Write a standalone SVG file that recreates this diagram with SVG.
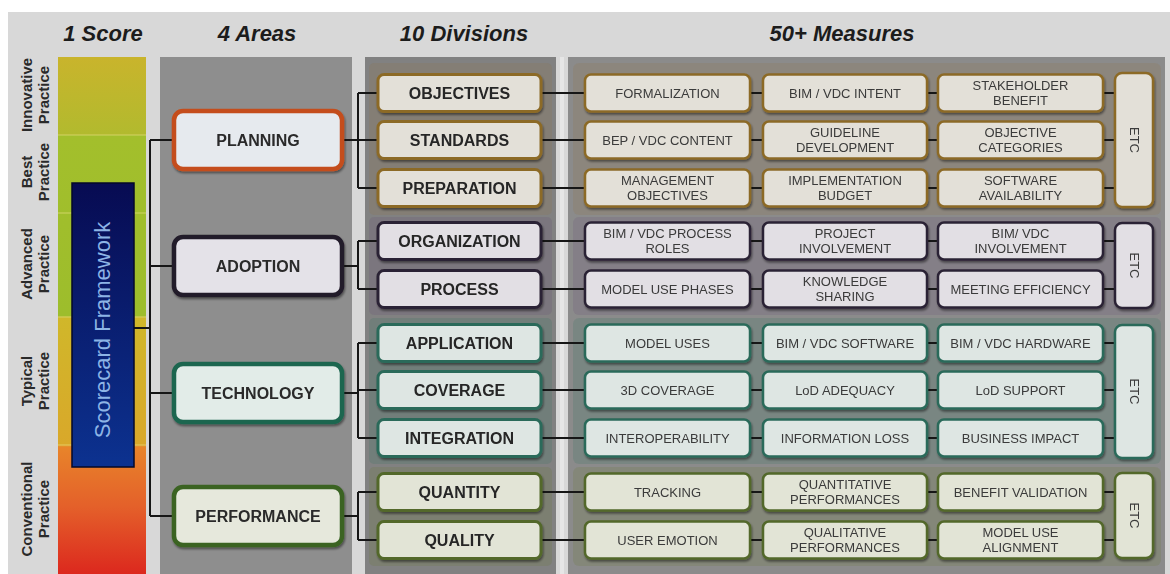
<svg xmlns="http://www.w3.org/2000/svg" width="1170" height="574" viewBox="0 0 1170 574">
<defs>
<linearGradient id="score" gradientUnits="userSpaceOnUse" x1="0" y1="57" x2="0" y2="574">
<stop offset="0" stop-color="#c9b42c"/>
<stop offset="0.15" stop-color="#b2ba2e"/>
<stop offset="0.152" stop-color="#a3bf2c"/>
<stop offset="0.5" stop-color="#9dbd2c"/>
<stop offset="0.505" stop-color="#d0b72a"/>
<stop offset="0.75" stop-color="#d9a82a"/>
<stop offset="0.755" stop-color="#e8842a"/>
<stop offset="0.87" stop-color="#e4602a"/>
<stop offset="1" stop-color="#dc281e"/>
</linearGradient>
<linearGradient id="fw" x1="0" y1="0" x2="0" y2="1">
<stop offset="0" stop-color="#070b52"/>
<stop offset="1" stop-color="#0c3290"/>
</linearGradient>
<filter id="sh" x="-10%" y="-20%" width="130%" height="150%">
<feDropShadow dx="1" dy="2" stdDeviation="1.3" flood-color="#000" flood-opacity="0.45"/>
</filter>
<style>
.hdr{font-family:"Liberation Sans",Arial,sans-serif;font-weight:bold;font-style:italic;font-size:22px;fill:#1c1c1c;text-anchor:middle}
.prac{font-family:"Liberation Sans",Arial,sans-serif;font-weight:bold;font-size:15px;fill:#2a2a2a;text-anchor:middle}
.conn{stroke:#161616;stroke-width:2;fill:none}
.box{filter:url(#sh)}
.area rect{stroke-width:4.5}
.area text{font-family:"Liberation Sans",Arial,sans-serif;font-weight:bold;font-size:16px;fill:#2a2a2a;text-anchor:middle}
.div rect{stroke-width:3}
.div text{font-family:"Liberation Sans",Arial,sans-serif;font-weight:bold;font-size:16px;fill:#262626;text-anchor:middle}
.ms rect{stroke-width:2.5}
.ms text{font-family:"Liberation Sans",Arial,sans-serif;font-size:13px;fill:#3a3a3a;text-anchor:middle}
.pl rect{fill:#e3e0d8;stroke:#8c6a28}
.ad rect{fill:#e2dfe4;stroke:#2c2434}
.te rect{fill:#dee6e3;stroke:#2b6a5a}
.pe rect{fill:#e2e4d6;stroke:#52682a}
.area.pl rect{fill:#e6eaee;stroke:#c44e1c}
.area.ad rect{fill:#e4e2e8;stroke:#221a2a}
.area.te rect{fill:#e2ece8;stroke:#1f6650}
.area.pe rect{fill:#e6e8dc;stroke:#3a6424}
</style>
</defs>

<rect x="0" y="0" width="1170" height="574" fill="#ffffff"/>
<rect x="8" y="12" width="1162" height="562" fill="#d8d8d8"/>

<!-- headers -->
<text class="hdr" x="103" y="41">1 Score</text>
<text class="hdr" x="257" y="41">4 Areas</text>
<text class="hdr" x="464" y="41">10 Divisions</text>
<text class="hdr" x="842" y="41">50+ Measures</text>

<!-- practice labels -->
<g id="practices">
<text class="prac" transform="translate(32,95) rotate(-90)">Innovative</text>
<text class="prac" transform="translate(49,95) rotate(-90)">Practice</text>
<text class="prac" transform="translate(32,172) rotate(-90)">Best</text>
<text class="prac" transform="translate(49,172) rotate(-90)">Practice</text>
<text class="prac" transform="translate(32,264) rotate(-90)">Advanced</text>
<text class="prac" transform="translate(49,264) rotate(-90)">Practice</text>
<text class="prac" transform="translate(32,381) rotate(-90)">Typical</text>
<text class="prac" transform="translate(49,381) rotate(-90)">Practice</text>
<text class="prac" transform="translate(32,509) rotate(-90)">Conventional</text>
<text class="prac" transform="translate(49,509) rotate(-90)">Practice</text>
</g>

<!-- score bar -->
<g id="score-bar">
<rect x="58" y="57" width="88" height="517" fill="url(#score)"/>
<g stroke="#f0e48a" stroke-width="1.2" opacity="0.6">
<line x1="58" y1="135" x2="146" y2="135"/>
<line x1="58" y1="213" x2="146" y2="213"/>
<line x1="58" y1="317" x2="146" y2="317"/>
<line x1="58" y1="445" x2="146" y2="445"/>
</g>
</g>

<!-- panels -->
<g id="panels">
<rect x="160" y="57" width="192" height="517" fill="#8e8e8e"/>
<rect x="365" y="57" width="191" height="517" fill="#818181"/>
<rect x="568" y="57" width="597" height="517" fill="#8b8b8b"/>
<line x1="562" y1="57" x2="562" y2="574" stroke="#e6e6e6" stroke-width="4"/>
<g>
<rect x="369" y="63" width="183" height="152" rx="5" fill="#96703a" opacity="0.16"/>
<rect x="369" y="217" width="183" height="98" rx="5" fill="#5a3c6e" opacity="0.14"/>
<rect x="369" y="318" width="183" height="146" rx="5" fill="#1e6e5a" opacity="0.16"/>
<rect x="369" y="467" width="183" height="99" rx="5" fill="#64781e" opacity="0.16"/>
<rect x="573" y="63" width="588" height="152" rx="6" fill="#96703a" opacity="0.16"/>
<rect x="573" y="217" width="588" height="98" rx="6" fill="#5a3c6e" opacity="0.14"/>
<rect x="573" y="318" width="588" height="146" rx="6" fill="#1e6e5a" opacity="0.16"/>
<rect x="573" y="467" width="588" height="99" rx="6" fill="#64781e" opacity="0.16"/>
</g>
</g>

<!-- connectors -->
<g id="connectors" class="conn">
<path d="M133 328 H150 M150 140 V516 M150 140 H174 M150 266 H174 M150 393 H174 M150 516 H174"/>
<path d="M342 140 H358 M358 93 V188 M358 93 H378 M358 140 H378 M358 188 H378"/>
<path d="M342 266 H358 M358 241 V289 M358 241 H378 M358 289 H378"/>
<path d="M342 393 H358 M358 343 V438 M358 343 H378 M358 390 H378 M358 438 H378"/>
<path d="M342 516 H358 M358 492 V540 M358 492 H378 M358 540 H378"/>
<path d="M541 93 H1115 M541 140 H1115 M541 188 H1115 M541 241 H1115 M541 289 H1115 M541 343 H1115 M541 390 H1115 M541 438 H1115 M541 492 H1115 M541 540 H1115"/>
</g>

<!-- score framework -->
<g id="scorecard-framework">
<rect x="72" y="183" width="62" height="284" fill="url(#fw)" stroke="#040828" stroke-width="1.5"/>
<text transform="translate(110,330) rotate(-90)" font-family="'Liberation Sans',Arial,sans-serif" font-size="22" fill="#8db4e6" text-anchor="middle">Scorecard Framework</text>
</g>

<!-- areas -->
<g id="area-planning" class="area pl box"><rect x="174" y="111" width="168" height="58" rx="9"/><text x="258" y="146">PLANNING</text></g>
<g id="area-adoption" class="area ad box"><rect x="174" y="237" width="168" height="58" rx="9"/><text x="258" y="272">ADOPTION</text></g>
<g id="area-technology" class="area te box"><rect x="174" y="364" width="168" height="58" rx="9"/><text x="258" y="399">TECHNOLOGY</text></g>
<g id="area-performance" class="area pe box"><rect x="174" y="487" width="168" height="58" rx="9"/><text x="258" y="522">PERFORMANCE</text></g>

<!-- divisions -->
<g id="div-objectives" class="div pl box"><rect x="378" y="74.5" width="163" height="37" rx="6"/><text x="459.5" y="98.7">OBJECTIVES</text></g>
<g id="div-standards" class="div pl box"><rect x="378" y="121.5" width="163" height="37" rx="6"/><text x="459.5" y="145.7">STANDARDS</text></g>
<g id="div-preparation" class="div pl box"><rect x="378" y="169.5" width="163" height="37" rx="6"/><text x="459.5" y="193.7">PREPARATION</text></g>
<g id="div-organization" class="div ad box"><rect x="378" y="222.5" width="163" height="37" rx="6"/><text x="459.5" y="246.7">ORGANIZATION</text></g>
<g id="div-process" class="div ad box"><rect x="378" y="270.5" width="163" height="37" rx="6"/><text x="459.5" y="294.7">PROCESS</text></g>
<g id="div-application" class="div te box"><rect x="378" y="324.5" width="163" height="37" rx="6"/><text x="459.5" y="348.7">APPLICATION</text></g>
<g id="div-coverage" class="div te box"><rect x="378" y="371.5" width="163" height="37" rx="6"/><text x="459.5" y="395.7">COVERAGE</text></g>
<g id="div-integration" class="div te box"><rect x="378" y="419.5" width="163" height="37" rx="6"/><text x="459.5" y="443.7">INTEGRATION</text></g>
<g id="div-quantity" class="div pe box"><rect x="378" y="473.5" width="163" height="37" rx="6"/><text x="459.5" y="497.7">QUANTITY</text></g>
<g id="div-quality" class="div pe box"><rect x="378" y="521.5" width="163" height="37" rx="6"/><text x="459.5" y="545.7">QUALITY</text></g>

<!-- measures: planning -->
<g id="m-formalization" class="ms pl box"><rect x="585" y="74.5" width="165" height="37" rx="6"/><text x="667.5" y="97.6">FORMALIZATION</text></g>
<g id="m-bim-intent" class="ms pl box"><rect x="763" y="74.5" width="164" height="37" rx="6"/><text x="845" y="97.6">BIM / VDC INTENT</text></g>
<g id="m-stakeholder" class="ms pl box"><rect x="938" y="74.5" width="165" height="37" rx="6"/><text x="1020.5" y="89.5">STAKEHOLDER</text><text x="1020.5" y="104.5">BENEFIT</text></g>
<g id="m-bep" class="ms pl box"><rect x="585" y="121.5" width="165" height="37" rx="6"/><text x="667.5" y="144.6">BEP / VDC CONTENT</text></g>
<g id="m-guideline" class="ms pl box"><rect x="763" y="121.5" width="164" height="37" rx="6"/><text x="845" y="136.5">GUIDELINE</text><text x="845" y="151.5">DEVELOPMENT</text></g>
<g id="m-objective-cat" class="ms pl box"><rect x="938" y="121.5" width="165" height="37" rx="6"/><text x="1020.5" y="136.5">OBJECTIVE</text><text x="1020.5" y="151.5">CATEGORIES</text></g>
<g id="m-management" class="ms pl box"><rect x="585" y="169.5" width="165" height="37" rx="6"/><text x="667.5" y="184.5">MANAGEMENT</text><text x="667.5" y="199.5">OBJECTIVES</text></g>
<g id="m-impl-budget" class="ms pl box"><rect x="763" y="169.5" width="164" height="37" rx="6"/><text x="845" y="184.5">IMPLEMENTATION</text><text x="845" y="199.5">BUDGET</text></g>
<g id="m-software-avail" class="ms pl box"><rect x="938" y="169.5" width="165" height="37" rx="6"/><text x="1020.5" y="184.5">SOFTWARE</text><text x="1020.5" y="199.5">AVAILABILITY</text></g>
<g id="etc-planning" class="ms pl box"><rect x="1115" y="73" width="38" height="134" rx="7"/><text transform="translate(1129.5,140) rotate(90)">ETC</text></g>

<!-- measures: adoption -->
<g id="m-process-roles" class="ms ad box"><rect x="585" y="222.5" width="165" height="37" rx="6"/><text x="667.5" y="237.5">BIM / VDC PROCESS</text><text x="667.5" y="252.5">ROLES</text></g>
<g id="m-project-inv" class="ms ad box"><rect x="763" y="222.5" width="164" height="37" rx="6"/><text x="845" y="237.5">PROJECT</text><text x="845" y="252.5">INVOLVEMENT</text></g>
<g id="m-bim-inv" class="ms ad box"><rect x="938" y="222.5" width="165" height="37" rx="6"/><text x="1020.5" y="237.5">BIM/ VDC</text><text x="1020.5" y="252.5">INVOLVEMENT</text></g>
<g id="m-model-phases" class="ms ad box"><rect x="585" y="270.5" width="165" height="37" rx="6"/><text x="667.5" y="293.6">MODEL USE PHASES</text></g>
<g id="m-knowledge" class="ms ad box"><rect x="763" y="270.5" width="164" height="37" rx="6"/><text x="845" y="285.5">KNOWLEDGE</text><text x="845" y="300.5">SHARING</text></g>
<g id="m-meeting" class="ms ad box"><rect x="938" y="270.5" width="165" height="37" rx="6"/><text x="1020.5" y="293.6">MEETING EFFICIENCY</text></g>
<g id="etc-adoption" class="ms ad box"><rect x="1115" y="223" width="38" height="85" rx="7"/><text transform="translate(1129.5,265.5) rotate(90)">ETC</text></g>

<!-- measures: technology -->
<g id="m-model-uses" class="ms te box"><rect x="585" y="324.5" width="165" height="37" rx="6"/><text x="667.5" y="347.6">MODEL USES</text></g>
<g id="m-bim-software" class="ms te box"><rect x="763" y="324.5" width="164" height="37" rx="6"/><text x="845" y="347.6">BIM / VDC SOFTWARE</text></g>
<g id="m-bim-hardware" class="ms te box"><rect x="938" y="324.5" width="165" height="37" rx="6"/><text x="1020.5" y="347.6">BIM / VDC HARDWARE</text></g>
<g id="m-3d-coverage" class="ms te box"><rect x="585" y="371.5" width="165" height="37" rx="6"/><text x="667.5" y="394.6">3D COVERAGE</text></g>
<g id="m-lod-adequacy" class="ms te box"><rect x="763" y="371.5" width="164" height="37" rx="6"/><text x="845" y="394.6">LoD ADEQUACY</text></g>
<g id="m-lod-support" class="ms te box"><rect x="938" y="371.5" width="165" height="37" rx="6"/><text x="1020.5" y="394.6">LoD SUPPORT</text></g>
<g id="m-interop" class="ms te box"><rect x="585" y="419.5" width="165" height="37" rx="6"/><text x="667.5" y="442.6">INTEROPERABILITY</text></g>
<g id="m-info-loss" class="ms te box"><rect x="763" y="419.5" width="164" height="37" rx="6"/><text x="845" y="442.6">INFORMATION LOSS</text></g>
<g id="m-business" class="ms te box"><rect x="938" y="419.5" width="165" height="37" rx="6"/><text x="1020.5" y="442.6">BUSINESS IMPACT</text></g>
<g id="etc-technology" class="ms te box"><rect x="1115" y="325" width="38" height="133" rx="7"/><text transform="translate(1129.5,391.5) rotate(90)">ETC</text></g>

<!-- measures: performance -->
<g id="m-tracking" class="ms pe box"><rect x="585" y="473.5" width="165" height="37" rx="6"/><text x="667.5" y="496.6">TRACKING</text></g>
<g id="m-quant-perf" class="ms pe box"><rect x="763" y="473.5" width="164" height="37" rx="6"/><text x="845" y="488.5">QUANTITATIVE</text><text x="845" y="503.5">PERFORMANCES</text></g>
<g id="m-benefit" class="ms pe box"><rect x="938" y="473.5" width="165" height="37" rx="6"/><text x="1020.5" y="496.6">BENEFIT VALIDATION</text></g>
<g id="m-user-emotion" class="ms pe box"><rect x="585" y="521.5" width="165" height="37" rx="6"/><text x="667.5" y="544.6">USER EMOTION</text></g>
<g id="m-qual-perf" class="ms pe box"><rect x="763" y="521.5" width="164" height="37" rx="6"/><text x="845" y="536.5">QUALITATIVE</text><text x="845" y="551.5">PERFORMANCES</text></g>
<g id="m-model-align" class="ms pe box"><rect x="938" y="521.5" width="165" height="37" rx="6"/><text x="1020.5" y="536.5">MODEL USE</text><text x="1020.5" y="551.5">ALIGNMENT</text></g>
<g id="etc-performance" class="ms pe box"><rect x="1115" y="473" width="38" height="85" rx="7"/><text transform="translate(1129.5,515.5) rotate(90)">ETC</text></g>
</svg>
